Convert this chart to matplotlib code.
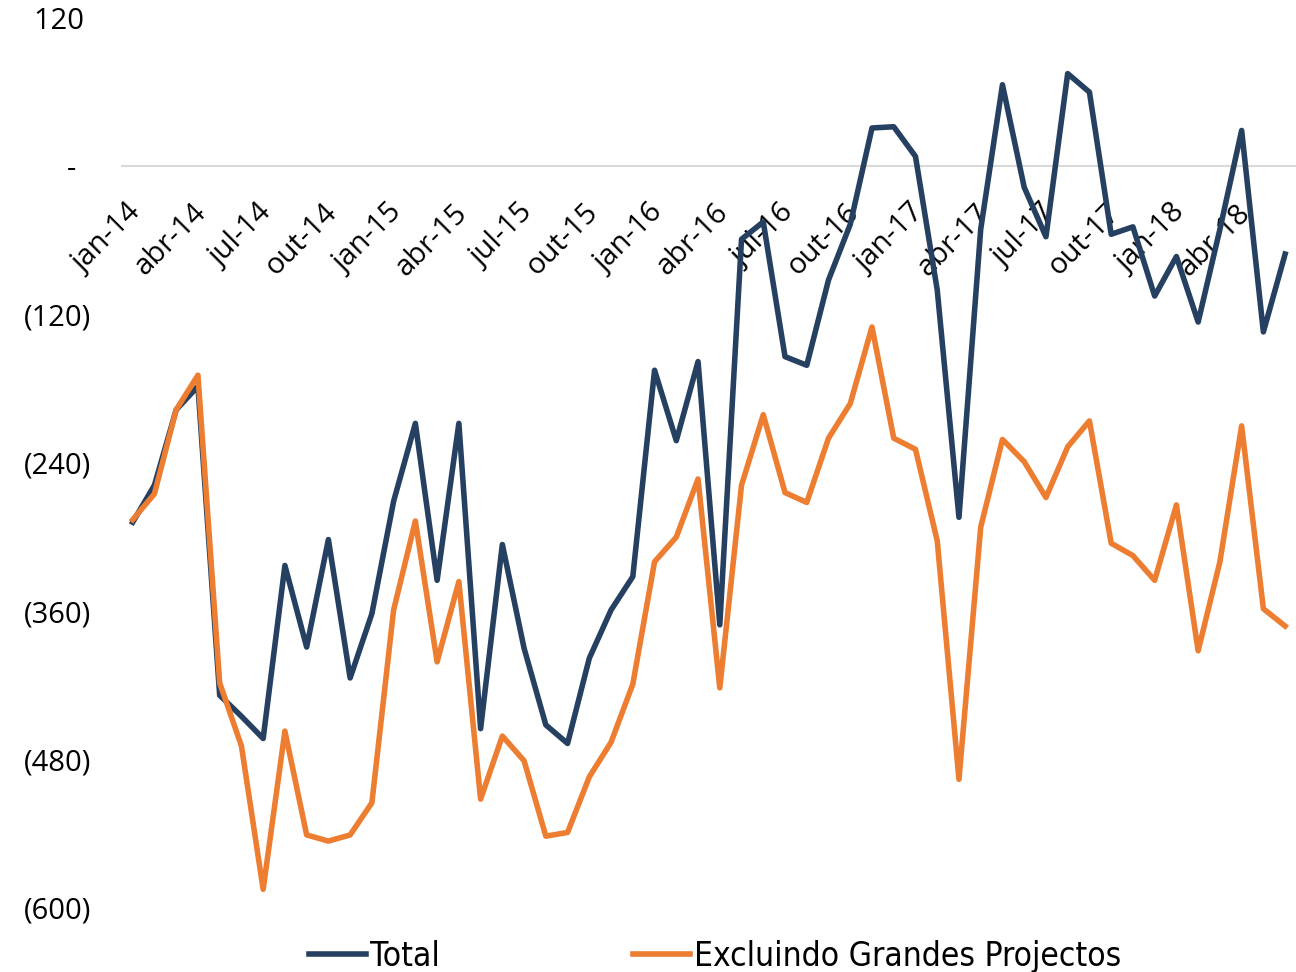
import matplotlib.pyplot as plt
import matplotlib.transforms as mtransforms

meses = ['jan', 'fev', 'mar', 'abr', 'mai', 'jun', 'jul', 'ago', 'set', 'out', 'nov', 'dez']
datas = [f"{meses[m]}-{a}" for a in range(14, 19) for m in range(12)][:54]

total = [-288, -258, -197, -178, -428, -445, -463, -323, -389, -302, -414, -362,
         -271, -208, -335, -208, -455, -306, -390, -452, -467, -398, -359, -332,
         -165, -222, -158, -371, -59, -45, -154, -161, -92, -47, 31, 32,
         8, -100, -284, -51, 66, -17, -57, 75, 60, -55, -49, -105,
         -73, -126, -51, 29, -134, -71]

excl_gp = [-286, -265, -197, -169, -418, -469, -585, -457, -541, -546, -541, -515,
           -359, -287, -401, -336, -512, -461, -481, -542, -539, -494, -466, -419,
           -320, -300, -253, -422, -258, -201, -264, -272, -220, -192, -130, -220,
           -229, -303, -496, -292, -221, -239, -268, -227, -206, -305, -315, -335,
           -274, -392, -320, -210, -358, -372]

yticks = [120, 0, -120, -240, -360, -480, -600]
ytick_labels = ['120 ', '-  ', '(120)', '(240)', '(360)', '(480)', '(600)']

fonte = ['Open Sans', 'DejaVu Sans']

fig = plt.figure(figsize=(12.96, 9.72), dpi=100)
ax = fig.add_axes([0.094, 0.066, 0.906, 0.9155])

for s in ['top', 'right', 'left']:
    ax.spines[s].set_visible(False)
ax.spines['bottom'].set_position(('data', 0))
ax.spines['bottom'].set_color('#D9D9D9')
ax.spines['bottom'].set_linewidth(1.5)
ax.spines['bottom'].set_zorder(0)

x = list(range(len(total)))
ax.plot(x, total, color='#264061', lw=4.0, label='Total')
ax.plot(x, excl_gp, color='#ED7D31', lw=4.0, label='Excluindo Grandes Projectos')

ax.set_xlim(-0.5, 53.5)
ax.set_ylim(-600, 120)

ax.set_yticks(yticks)
ax.set_yticklabels(ytick_labels, fontsize=21, family=fonte)
ax.tick_params(axis='y', length=0, pad=22)

ax.set_xticks(x[::3])
ax.set_xticklabels(datas[::3], rotation=45, ha='right', rotation_mode='anchor',
                   fontsize=21, family=fonte)
ax.tick_params(axis='x', length=0, pad=23)
desloc = mtransforms.ScaledTranslation(-6 / 100, 0, fig.dpi_scale_trans)
for lbl in ax.get_xticklabels():
    lbl.set_transform(lbl.get_transform() + desloc)

fig.legend(loc='lower center', bbox_to_anchor=(0.552, -0.032), ncol=2,
           frameon=False, handlelength=1.7, handletextpad=0.12,
           columnspacing=5.8,
           prop={'family': ['Liberation Sans Narrow', 'DejaVu Sans'], 'size': 24,
                 'stretch': 'condensed'})

fig.savefig('out.png', dpi=100)
